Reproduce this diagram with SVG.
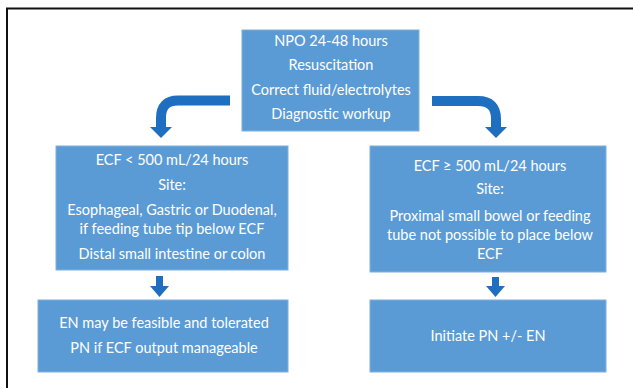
<svg xmlns="http://www.w3.org/2000/svg" width="633" height="388" viewBox="0 0 633 388">
<style>
.box{fill:#5b9bd5;stroke:#7eb0e0;stroke-width:1}
.t{font-family:Lato,"Open Sans","Liberation Sans",sans-serif;font-size:14.5px;fill:#ffffff;text-anchor:middle}
.ar{fill:#1f6fc1}
.sh{fill:none;stroke:#1f6fc1;stroke-width:10}
</style>
<rect width="633" height="388" fill="#ffffff"/>
<path d="M7,388 V8.5 H633" fill="none" stroke="#111" stroke-width="2"/>
<g id="top">
<rect class="box" x="242" y="30" width="177" height="101"/>
<text class="t" x="331" y="46">NPO 24-48 hours</text>
<text class="t" x="331" y="70">Resuscitation</text>
<text class="t" x="331" y="95">Correct fluid/electrolytes</text>
<text class="t" x="331" y="119">Diagnostic workup</text>
</g>
<g id="left">
<rect class="box" x="56" y="146" width="232" height="124"/>
<text class="t" x="172" y="165">ECF &lt; 500 mL/24 hours</text>
<text class="t" x="172" y="190">Site:</text>
<text class="t" x="172" y="215">Esophageal, Gastric or Duodenal,</text>
<text class="t" x="172" y="234">if feeding tube tip below ECF</text>
<text class="t" x="172" y="259">Distal small intestine or colon</text>
</g>
<g id="right">
<rect class="box" x="370" y="146" width="236" height="126"/>
<text class="t" x="490" y="171">ECF ≥ 500 mL/24 hours</text>
<text class="t" x="490" y="194">Site:</text>
<text class="t" x="490" y="221">Proximal small bowel or feeding</text>
<text class="t" x="490" y="240">tube not possible to place below</text>
<text class="t" x="490" y="259">ECF</text>
</g>
<g id="bottomleft">
<rect class="box" x="38" y="300" width="250" height="72"/>
<text class="t" x="164" y="328">EN may be feasible and tolerated</text>
<text class="t" x="164" y="353">PN if ECF output manageable</text>
</g>
<g id="bottomright">
<rect class="box" x="370" y="300" width="236" height="72"/>
<text class="t" x="488" y="341">Initiate PN +/- EN</text>
</g>
<g id="connectors">
<path class="sh" d="M230,100.5 H178 Q161,100.5 161,118 V128"/>
<polygon class="ar" points="150,127 172,127 161,138"/>
<path class="sh" d="M432,101 H478 Q496,101 496,119 V128"/>
<polygon class="ar" points="485,127 507,127 496,138"/>
<rect class="ar" x="156" y="276" width="7" height="11"/>
<polygon class="ar" points="150,286 169,286 159.5,297"/>
<rect class="ar" x="492" y="277" width="7" height="10"/>
<polygon class="ar" points="486,286 505,286 495.5,297"/>
</g>
</svg>
